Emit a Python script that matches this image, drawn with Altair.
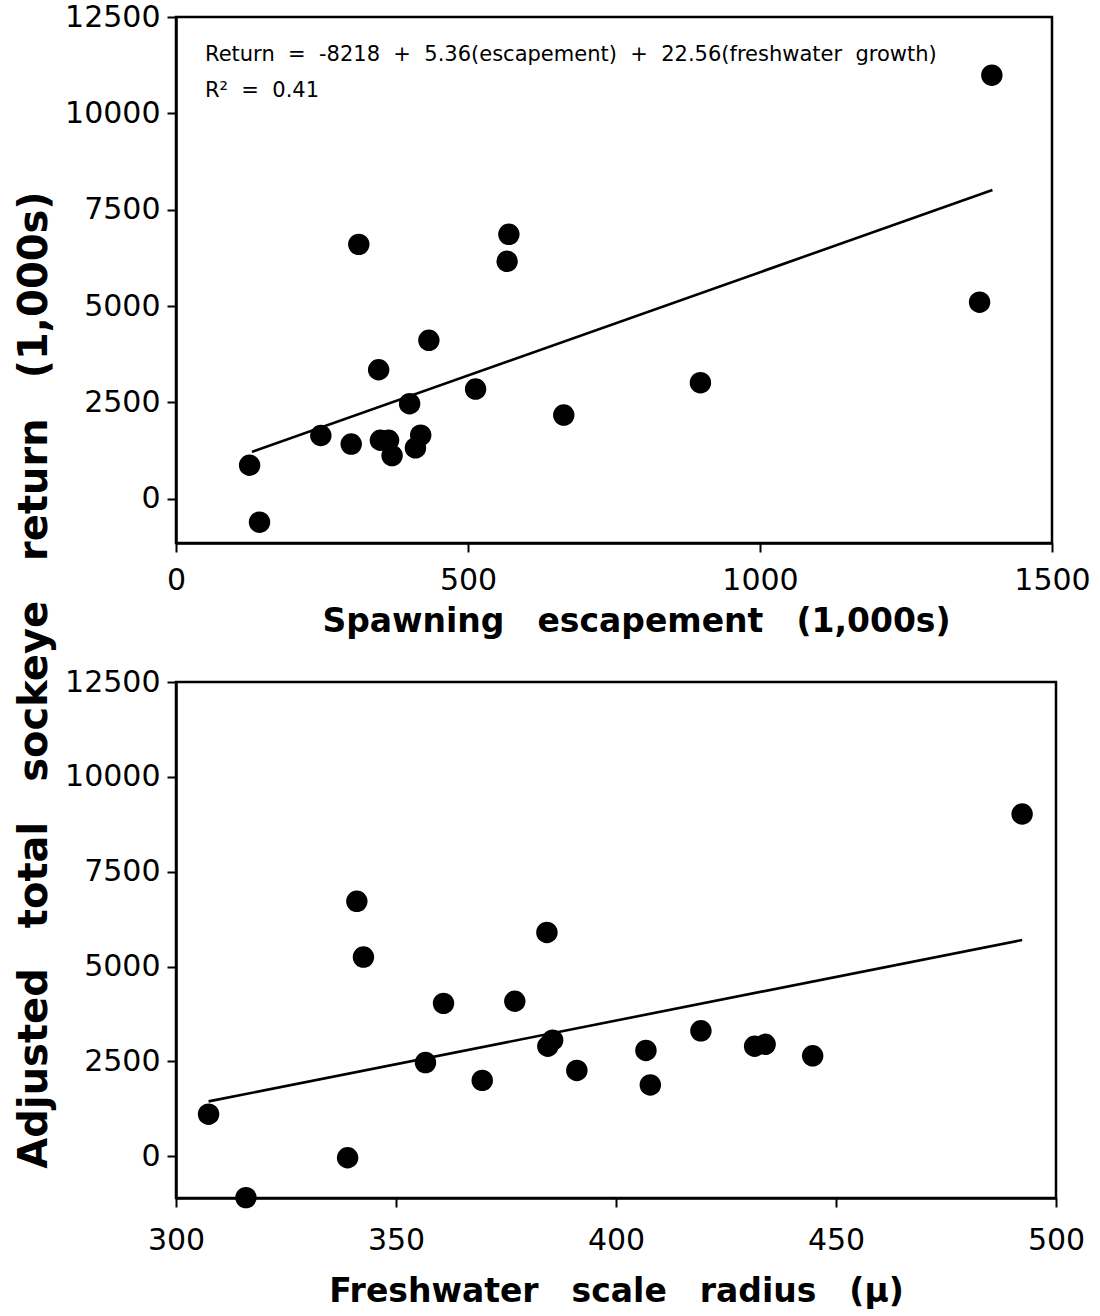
import altair as alt
import pandas as pd

# ---- data ----
esc_x = [126, 143, 248, 300, 313, 347, 350, 364, 370, 400, 410, 419, 433, 513, 567, 570, 664, 898, 1376, 1397]
esc_y = [868, -610, 1640, 1417, 6600, 3345, 1517, 1517, 1118, 2466, 1318, 1648, 4110, 2845, 6160, 6860, 2170, 3010, 5100, 10990]
esc_line_x = [130, 1398]
esc_line_y = [1215, 8010]

fw_x = [307.4, 315.9, 339.0, 341.1, 342.6, 356.7, 360.8, 369.6, 377.0, 384.3, 384.5, 385.6,
        391.1, 406.8, 407.8, 419.3, 431.5, 433.9, 444.7, 492.3]
fw_y = [1110, -1090, -40, 6720, 5250, 2470, 4030, 2000, 4086, 5900, 2900, 3060,
        2263, 2790, 1880, 3306, 2900, 2950, 2647, 9020]
fw_line_x = [307.4, 492.3]
fw_line_y = [1447, 5700]

y_ticks = [0, 2500, 5000, 7500, 10000, 12500]
esc_ticks = [0, 500, 1000, 1500]
fw_ticks = [300, 350, 400, 450, 500]

eq_text = "Return  =  -8218  +  5.36(escapement)  +  22.56(freshwater  growth)".replace("  ", " \u00a0")
r2_text = "R\u00b2 \u00a0= \u00a00.41"

FONT = "DejaVu Sans"
SP = "\u2003"


def panel(xs, ys, lx, ly, xdom, xticks, ydom, xtitle, w, h, label_pad, title_pad,
          title_x=None, notes=None):
    df = pd.DataFrame({"x": xs, "y": ys})
    ldf = pd.DataFrame({"x": lx, "y": ly})
    ax_kw = dict(values=xticks, title=xtitle, format="d", labelFlush=False,
                 labelPadding=label_pad, titlePadding=title_pad)
    if title_x is not None:
        ax_kw["titleX"] = title_x
    xenc = alt.X("x:Q", scale=alt.Scale(domain=xdom, nice=False, zero=False),
                 axis=alt.Axis(**ax_kw))
    yenc = alt.Y("y:Q", scale=alt.Scale(domain=ydom, nice=False, zero=False),
                 axis=alt.Axis(values=y_ticks, title=None, format="d", labelFlush=False))
    line = alt.Chart(ldf).mark_line(color="black", strokeWidth=2.6).encode(x=xenc, y=yenc)
    pts = alt.Chart(df).mark_circle(size=460, color="black", opacity=1).encode(x="x:Q", y="y:Q")
    layers = [line, pts]
    if notes:
        for txt, px, py in notes:
            layers.append(
                alt.Chart(pd.DataFrame({"t": [txt]})).mark_text(
                    align="left", baseline="middle", font=FONT, fontSize=21, color="black"
                ).encode(x=alt.value(px), y=alt.value(py), text="t:N")
            )
    return alt.layer(*layers).properties(width=w, height=h)


top = panel(esc_x, esc_y, esc_line_x, esc_line_y, [0, 1500], esc_ticks, [-1150, 12500],
            f"Spawning{SP}escapement{SP}(1,000s)", 876, 526, 13, 10, title_x=460,
            notes=[(eq_text, 29, 38), (r2_text, 29, 74)])
bottom = panel(fw_x, fw_y, fw_line_x, fw_line_y, [300, 500], fw_ticks, [-1100, 12500],
               f"Freshwater{SP}scale{SP}radius{SP}(\u00b5)", 880, 516, 18, 20)

chart = alt.vconcat(top, bottom, spacing=25).properties(
    title=alt.TitleParams(
        f"Adjusted{SP}total{SP}sockeye{SP}return{SP}(1,000s)",
        orient="left", anchor="middle", font=FONT, fontSize=40, fontWeight="bold",
        color="black", offset=8, dx=-25,
    ),
    padding={"left": 15, "top": 0, "right": 5, "bottom": 5},
    background="white",
).configure_view(
    stroke="black", strokeWidth=2.5
).configure_axis(
    grid=False,
    domainColor="black", domainWidth=2.5,
    tickColor="black", tickWidth=2, tickSize=9,
    labelFont=FONT, labelFontSize=30, labelColor="black", labelPadding=7,
    titleFont=FONT, titleFontSize=33, titleFontWeight="bold", titleColor="black",
    titlePadding=10,
)

chart.save("out.html", embed_options={"renderer": "svg", "actions": False})
